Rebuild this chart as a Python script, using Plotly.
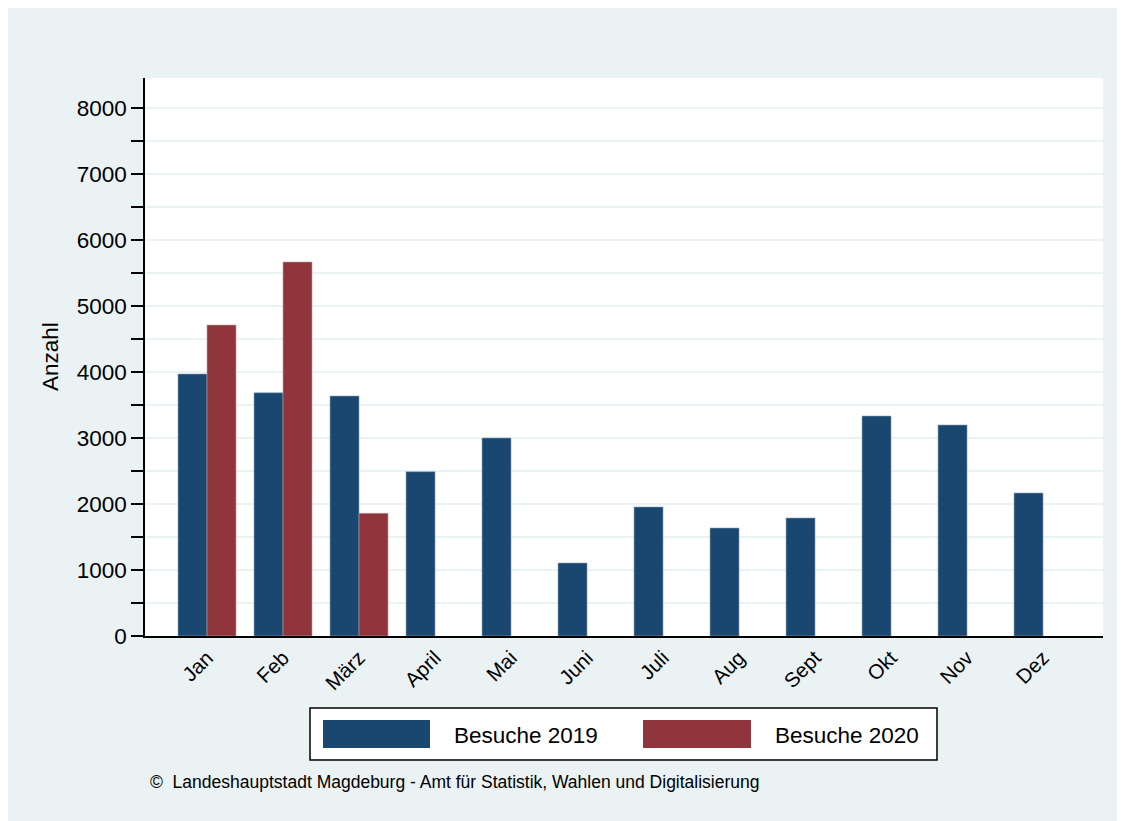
import plotly.graph_objects as go

months = ["Jan", "Feb", "März", "April", "Mai", "Juni", "Juli", "Aug", "Sept", "Okt", "Nov", "Dez"]
visits_2019 = [3970, 3686, 3636, 2490, 3000, 1106, 1955, 1636, 1788, 3333, 3197, 2167]
visits_2020 = [4712, 5667, 1859, None, None, None, None, None, None, None, None, None]
series_names = ["Besuche 2019", "Besuche 2020"]
y_ticks = [0, 1000, 2000, 3000, 4000, 5000, 6000, 7000, 8000]
y_minor = [500, 1500, 2500, 3500, 4500, 5500, 6500, 7500]
y_title = "Anzahl"
source_note = "©  Landeshauptstadt Magdeburg - Amt für Statistik, Wahlen und Digitalisierung"

C2019 = "#1a476f"
C2020 = "#90353b"
BG = "#eaf2f3"
FONT = "Liberation Sans, Arial, Helvetica, sans-serif"

OFF = 8  # page body margin offset
W, H = 1133, 829
L, T = 145 - OFF, 78 - OFF
PW, PH = 958, 558
R = W - L - PW
B = H - T - PH

def px(x):
    return (x - OFF - L) / PW

def py(y):
    return (T + PH - (y - OFF)) / PH

fig = go.Figure()
fig.add_trace(go.Bar(x=months, y=visits_2019, name=series_names[0],
                     marker=dict(color=C2019, line=dict(width=0.6, color="#8aa3ba")), showlegend=False))
fig.add_trace(go.Bar(x=months, y=visits_2020, name=series_names[1],
                     marker=dict(color=C2020, line=dict(width=0.6, color="#c49a9d")), showlegend=False))

shapes = [
    dict(type="rect", xref="paper", yref="paper", x0=px(310), x1=px(937), y0=py(760), y1=py(708),
         fillcolor="white", line=dict(color="black", width=1.5)),
    dict(type="rect", xref="paper", yref="paper", x0=px(323), x1=px(430), y0=py(748), y1=py(720),
         fillcolor=C2019, line=dict(width=0)),
    dict(type="rect", xref="paper", yref="paper", x0=px(643), x1=px(751), y0=py(748), y1=py(720),
         fillcolor=C2020, line=dict(width=0)),
]

annotations = [
    dict(text=series_names[0], xref="paper", yref="paper", x=px(452), y=py(735),
         xanchor="left", yanchor="middle", showarrow=False, font=dict(size=22.5, color="black", family=FONT)),
    dict(text=series_names[1], xref="paper", yref="paper", x=px(773), y=py(735),
         xanchor="left", yanchor="middle", showarrow=False, font=dict(size=22.5, color="black", family=FONT)),
    dict(text=source_note, xref="paper", yref="paper", x=px(148), y=py(782),
         xanchor="left", yanchor="middle", showarrow=False, font=dict(size=17.5, color="black", family=FONT)),
    dict(text=y_title, xref="paper", yref="paper", x=px(50), y=py(357),
         xanchor="center", yanchor="middle", textangle=-90, showarrow=False,
         font=dict(size=22.5, color="black", family=FONT)),
]

fig.update_layout(
    width=W, height=H,
    margin=dict(l=L, r=R, t=T, b=B, autoexpand=False),
    paper_bgcolor=BG, plot_bgcolor="white",
    barmode="group", bargap=0.237, bargroupgap=0,
    font=dict(family=FONT, color="black"),
    shapes=shapes, annotations=annotations,
    showlegend=False,
    xaxis=dict(type="category", range=[-0.816, 11.789], showline=True, linecolor="black", linewidth=1.5,
               ticks="", showgrid=False, tickangle=-45, tickfont=dict(size=20.5), automargin=False),
    yaxis=dict(range=[0, 8455], tickvals=y_ticks, showline=True, linecolor="black", linewidth=1.5,
               ticks="outside", ticklen=12, tickwidth=1.5, tickcolor="black",
               showgrid=True, gridcolor=BG, gridwidth=1.5, zeroline=False,
               tickfont=dict(size=22.5), automargin=False,
               minor=dict(tickvals=y_minor,
                          ticks="outside", ticklen=12, tickwidth=1.5, tickcolor="black",
                          showgrid=True, gridcolor=BG, gridwidth=1.5)),
)

fig.write_html("out.html")
